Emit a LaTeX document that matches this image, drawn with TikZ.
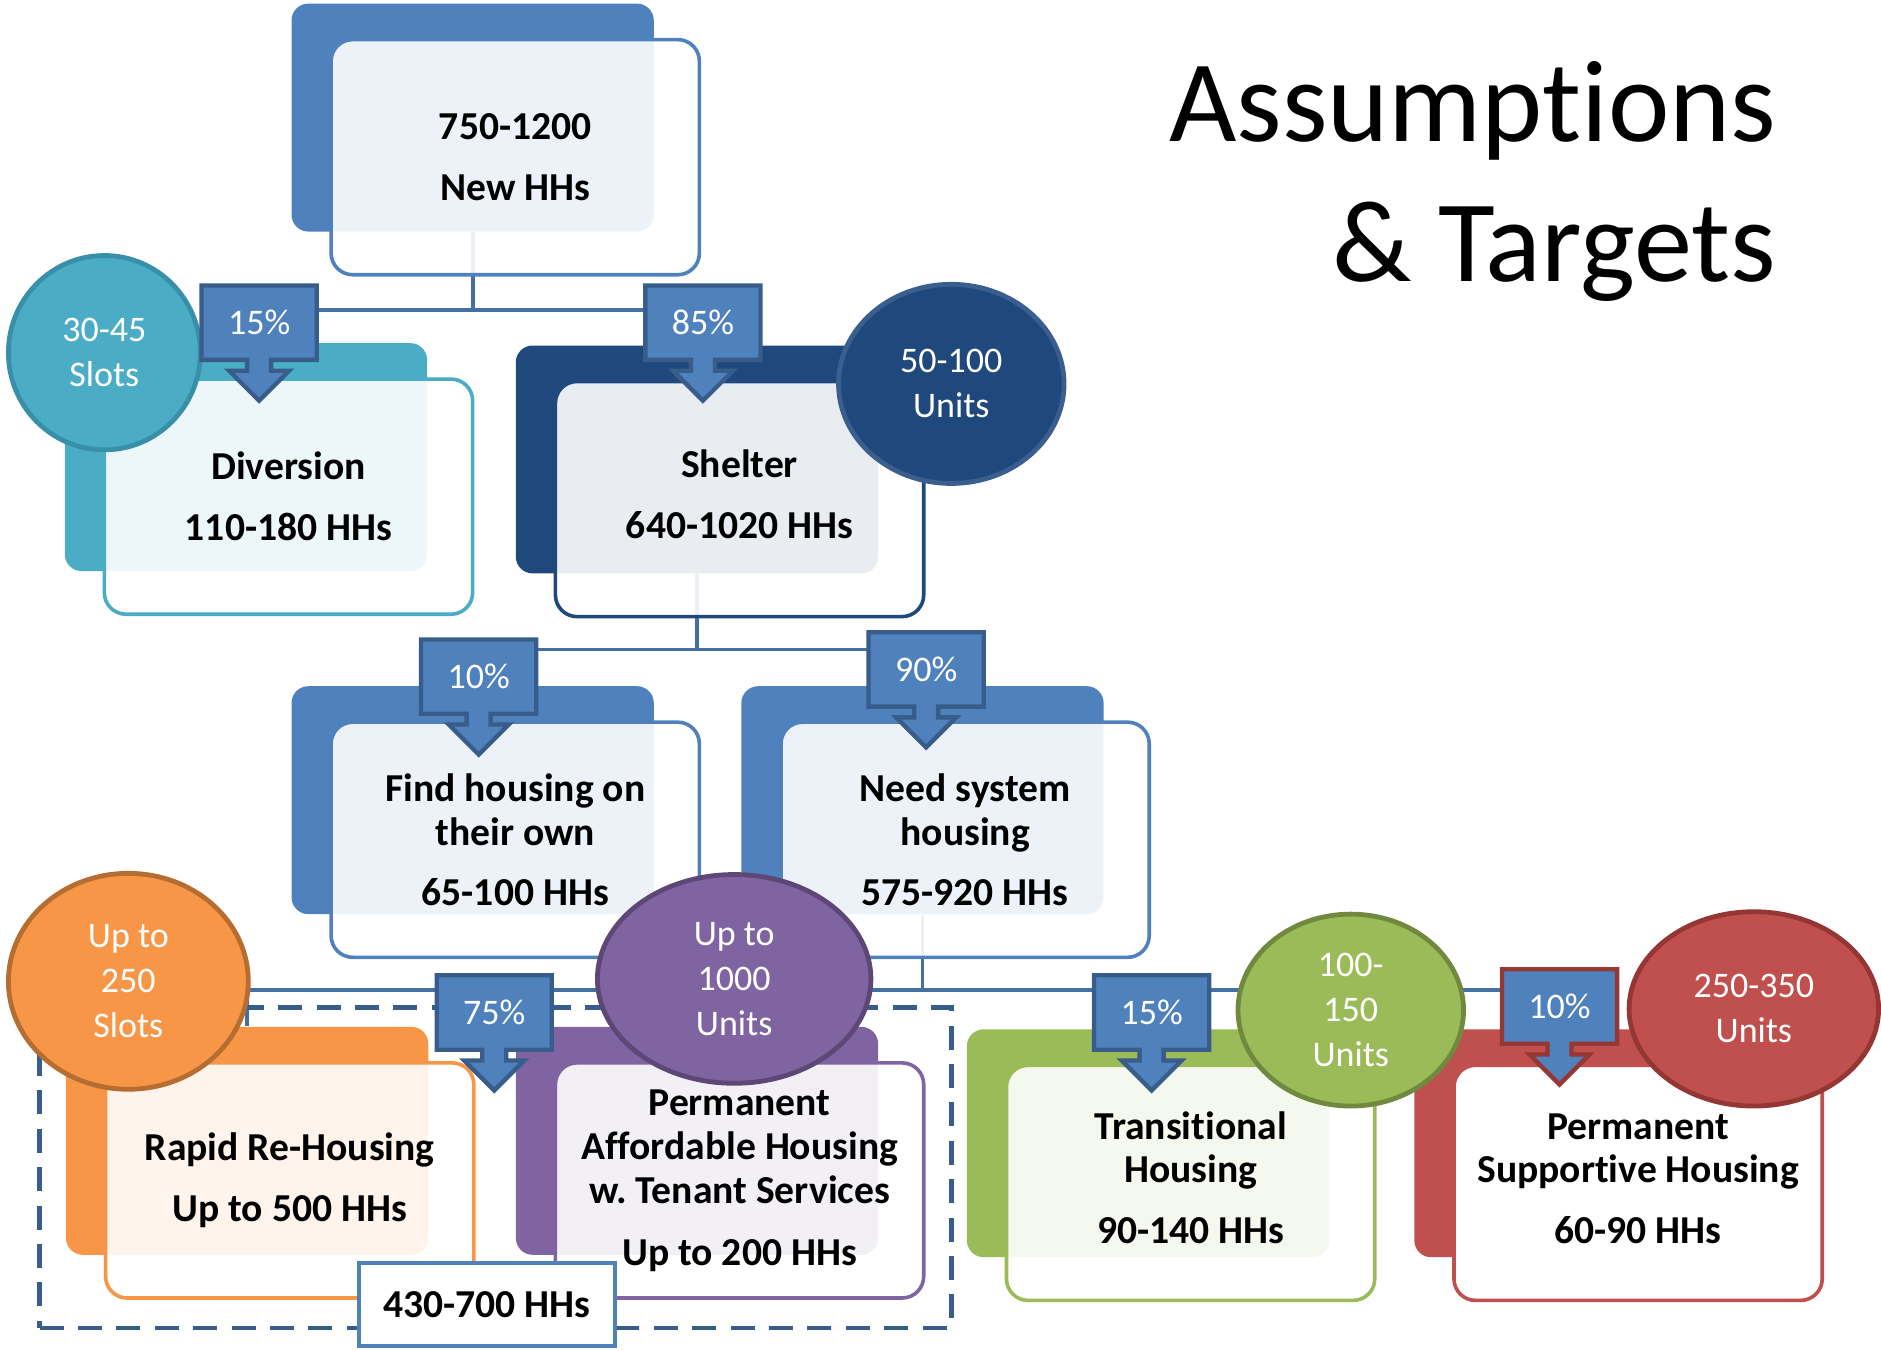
\documentclass[tikz,border=0pt]{standalone}
\usepackage{fontspec}
\setmainfont{Carlito}[Ligatures=NoCommon]
\usetikzlibrary{shapes.geometric,calc}
\definecolor{cblue}{HTML}{4F81BD}
\definecolor{cdark}{HTML}{1F497D}
\definecolor{cteal}{HTML}{4BACC6}
\definecolor{corange}{HTML}{F79646}
\definecolor{cpurple}{HTML}{8064A2}
\definecolor{cgreen}{HTML}{9BBB59}
\definecolor{cred}{HTML}{C0504D}
\definecolor{calline}{HTML}{385D8A}
\definecolor{calred}{HTML}{953735}
\definecolor{connc}{HTML}{4470A6}
\definecolor{bteal}{HTML}{3890A8}
\definecolor{bdark}{HTML}{3A5F8F}
\definecolor{borange}{HTML}{B66D31}
\definecolor{bpurple}{HTML}{5C4776}
\definecolor{bgreen}{HTML}{71893F}
\definecolor{bred}{HTML}{943634}
\newcommand\boxfont{\fontsize{16.5pt}{18.5pt}\selectfont\bfseries}
\newcommand\circfont{\fontsize{15pt}{18.75pt}\selectfont}
\newcommand\nolig{\kern0pt }
\newcommand\mycallout[5]{%
  \begin{scope}[shift={(#2,#3)}]
    \draw[callshape, draw=#5] (-48,0) -- (48,0) -- (48,62) -- (10,62) -- (10,71) -- (25,71)
      -- (0,96) -- (-25,71) -- (-10,71) -- (-10,62) -- (-48,62) -- cycle;
    \node[pcttext] (#1) at (0,31) {#4};
  \end{scope}}
\frenchspacing
\begin{document}
\begin{tikzpicture}[x=0.5pt,y=-0.5pt,
  backbox/.style={rectangle, draw=none, rounded corners=7pt, minimum width=151pt, minimum height=95pt, inner sep=0pt},
  frontbox/.style={rectangle, rounded corners=9pt, line width=1.5pt, fill=white, fill opacity=0.9, text opacity=1, minimum width=153.5pt, minimum height=98pt, inner sep=0pt, align=center, font=\boxfont},
  conn/.style={draw=connc, line width=1.6pt},
  circ/.style={ellipse, line width=2pt, inner sep=0pt, align=center, text=white, font=\circfont},
  callshape/.style={fill=cblue, line width=1.8pt, line join=miter},
  pcttext/.style={text=white, font=\circfont, inner sep=0pt},
  dashbox/.style={draw=calline, line width=2pt, dash pattern=on 10pt off 6pt, rectangle, inner sep=0pt, minimum width=380pt, minimum height=133.5pt},
  sumbox/.style={rectangle, draw=cblue, line width=1.6pt, fill=white, minimum width=107pt, minimum height=34.5pt, inner sep=0pt, font=\boxfont},
  title/.style={font=\fontsize{48.5pt}{58pt}\selectfont, inner sep=0pt, anchor=base east}
]
\useasboundingbox (0,0) rectangle (1568,1126);
% back boxes
\node[backbox, fill=cblue] (topB) at (394,98) {};
\node[backbox, fill=cteal] (divB) at (205,381) {};
\node[backbox, fill=cdark] (shB) at (581,383) {};
\node[backbox, fill=cblue] (fiB) at (394,667) {};
\node[backbox, fill=cblue] (neB) at (769,667) {};
\node[backbox, fill=corange] (rrB) at (206,951) {};
\node[backbox, fill=cpurple] (paB) at (581,951) {};
\node[backbox, fill=cgreen] (thB) at (957,953) {};
\node[backbox, fill=cred] (psB) at (1330,953) {};
% connectors
\coordinate (j1) at ($(topB.south)+(0,65)$);
\coordinate (j2) at ($(shB.south)+(0,63)$);
\coordinate (j3) at ($(neB.south)+(0,63)$);
\draw[conn] (topB.south) -- (j1);
\draw[conn] (divB.north) |- (j1) -| (shB.north);
\draw[conn] (shB.south) -- (j2);
\draw[conn] (fiB.north) |- (j2) -| (neB.north);
\draw[conn] (neB.south) -- (j3);
\draw[conn] (rrB.north) |- (j3) -| (psB.north);
\draw[conn] (paB.north) -- (paB.north |- j3);
\draw[conn] (thB.north) -- (thB.north |- j3);
% front boxes
\node[frontbox, draw=cblue] (topF) at (429.5,131) {750-1200\\[7pt]New HHs};
\node[frontbox, draw=cteal] (divF) at (240.5,414) {Diversion\\[7pt]110-180 HHs};
\node[frontbox, draw=cdark] (shF) at (616.5,416) {\raisebox{1pt}{\begin{tabular}{@{}c@{}}Shelter\\[7pt]640-1020 HHs\end{tabular}}};
\node[frontbox, draw=cblue] (fiF) at (429.5,700) {Find housing on\\their own\\[6.5pt]65-100 HHs};
\node[frontbox, draw=cblue] (neF) at (804.5,700) {Need system\\housing\\[6.5pt]575-920 HHs};
\node[frontbox, draw=corange] (rrF) at (241.5,984) {Rapid Re-Housing\\[7pt]Up to 500 HHs};
\node[frontbox, draw=cpurple] (paF) at (616.5,984) {Permanent\\Affordable Housing\\w. Tenant Services\\[7pt]Up to 200 HHs};
\node[frontbox, draw=cgreen] (thF) at (992.5,986) {\raisebox{1.5pt}{\begin{tabular}{@{}c@{}}Transit\nolig ional\\[-0.5pt]Housing\\[7pt]90-140 HHs\end{tabular}}};
\node[frontbox, draw=cred, fill opacity=1] (psF) at (1365.5,986) {\raisebox{1.5pt}{\begin{tabular}{@{}c@{}}Permanent\\[-0.5pt]Support\nolig ive Housing\\[7pt]60-90 HHs\end{tabular}}};
% dashed group and total
\node[dashbox] (grp) at (413,973.5) {};
\node[sumbox] (sum) at (406,1087.5) {430-700 HHs};
% circles
\node[circ, fill=cteal, draw=bteal, minimum width=80pt, minimum height=81pt] (c1) at (87,294) {30-45\\Slots};
\node[circ, fill=cdark, draw=bdark, minimum width=94pt, minimum height=83pt] (c2) at (793,320) {50-100\\Units};
\node[circ, fill=corange, draw=borange, minimum width=100pt, minimum height=90pt] (c3) at (107,818) {Up to\\250\\Slots};
\node[circ, fill=cpurple, draw=bpurple, minimum width=114pt, minimum height=87pt] (c4) at (612,816) {Up to\\1000\\Units};
\node[circ, fill=cgreen, draw=bgreen, minimum width=94pt, minimum height=80pt] (c5) at (1126,842) {100-\\150\\Units};
\node[circ, fill=cred, draw=bred, minimum width=104pt, minimum height=81pt] (c6) at (1462,841) {250-350\\Units};
% callouts
\mycallout{p1}{216}{238}{15\%}{calline}
\mycallout{p2}{586}{238}{85\%}{calline}
\mycallout{p3}{399}{533}{10\%}{calline}
\mycallout{p4}{772}{527}{90\%}{calline}
\mycallout{p5}{412}{813}{75\%}{calline}
\mycallout{p6}{960}{813}{15\%}{calline}
\mycallout{p7}{1300}{808}{10\%}{calred}
% title
\node[title] (t1) at (1481,118) {Assumpt\nolig ions};
\node[title] (t2) at (1481,235) {\& Targets};
\end{tikzpicture}
\end{document}
